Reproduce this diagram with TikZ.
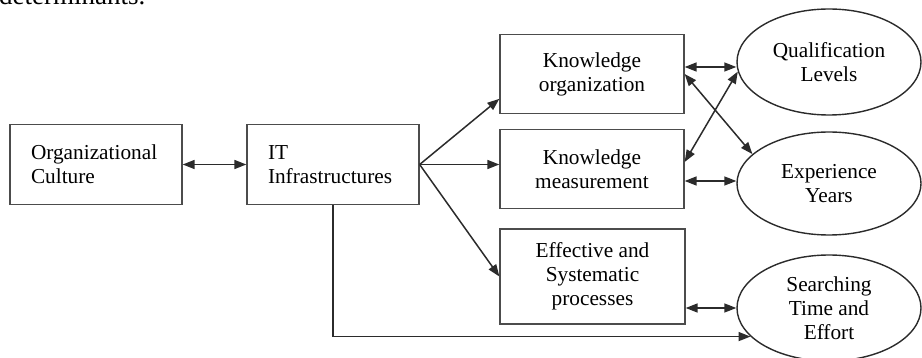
\documentclass[tikz,border=0pt]{standalone}
\usepackage{fontspec}
\setmainfont{Liberation Serif}
\usepackage{tikz}
\usetikzlibrary{calc}
\usetikzlibrary{arrows.meta}
\usetikzlibrary{shapes}
\usetikzlibrary{shapes.geometric}
\usetikzlibrary{positioning}
\definecolor{edgegray}{rgb}{0.17, 0.17, 0.17}
\definecolor{framegray}{rgb}{0.3, 0.3, 0.3}

\begin{document}
\begin{tikzpicture}[x=1pt,y=-1pt,
	box/.style={draw=framegray,line width=1.3pt,rectangle,inner sep=0pt,align=center,
		font=\fontsize{21.3}{24}\selectfont},
	leftbox/.style={box,align=left,text width=130pt,inner xsep=21pt,minimum width=172pt,minimum height=80pt},
	oval/.style={draw=edgegray,line width=1.4pt,ellipse,inner sep=0pt,align=center,
		minimum width=184pt,font=\fontsize{21.3}{24}\selectfont},
	dbl/.style={edgegray,line width=1.5pt,{Triangle[length=12pt,width=9pt]}-{Triangle[length=12pt,width=9pt]}},
	arr/.style={edgegray,line width=1.5pt,-{Triangle[length=12pt,width=9pt]}}]
	
	\useasboundingbox (0,0) rectangle (922,358);
	\clip (0,0) rectangle (922,358);
	
	\coordinate (P1) at (96,164.5);
	\coordinate (P2) at (333,164.5);
	\coordinate (P3) at (592,74);
	\coordinate (P4) at (592,169);
	\coordinate (P5) at (592.5,276.5);
	\coordinate (E1) at (829,62);
	\coordinate (E2) at (829,183.5);
	\coordinate (E3) at (829,308);
	
	\node at (-1,5) [anchor=base west,inner sep=0pt,font=\fontsize{27}{32}\selectfont] (Caption) {determinants.};
	
	\node at (P1) [leftbox] (Culture) {Organizational\\Culture};
	\node at (P2) [leftbox] (Infra) {IT\\Infrastructures};
	\node at (P3) [box,minimum width=184pt,minimum height=79pt] (KnowOrg) {Knowledge\\organization};
	\node at (P4) [box,minimum width=184pt,minimum height=79pt] (KnowMeas) {Knowledge\\measurement};
	\node at (P5) [box,minimum width=185pt,minimum height=95pt] (Process) {Effective and\\Systematic\\processes};
	\node at (E1) [oval,minimum height=106pt] (Qualif) {Qualification\\Levels};
	\node at (E2) [oval,minimum height=103pt] (Exper) {Experience\\Years};
	\node at (E3) [oval,minimum height=106pt] (Search) {Searching\\Time and\\Effort};
	
	\coordinate (a1) at ($(KnowOrg.east)+(0,-7)$);
	\coordinate (a2) at ($(KnowMeas.east)+(0,-7)$);
	\coordinate (a3) at ($(KnowMeas.east)+(0,12)$);
	
	\draw [dbl] (Culture.east) -- (Infra.west);
	\draw [arr] (Infra.east) -- (KnowOrg.195);
	\draw [arr] (Infra.east) -- (Infra.east -| KnowMeas.west);
	\draw [arr] (Infra.east) -- (Process.west);
	\draw [arr] (Infra.south) |- (Search.200);
	
	\draw [dbl] (a1) -- (a1 -| Qualif.west);
	\draw [dbl] (KnowOrg.east) -- (Exper.159);
	\draw [dbl] (a2) -- (Qualif.186);
	\draw [dbl] (a3) -- (a3 -| Exper.west);
	\draw [dbl] (Process.east |- Search.west) -- (Search.west);
\end{tikzpicture}
\end{document}
